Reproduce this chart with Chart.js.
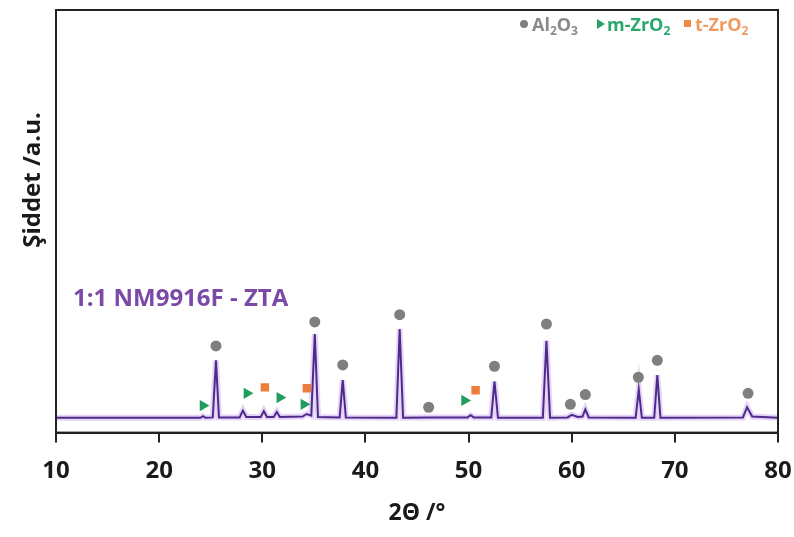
<!DOCTYPE html>
<html><head><meta charset="utf-8">
<script src="https://cdn.jsdelivr.net/npm/chart.js@4/dist/chart.umd.min.js"></script>
<style>html,body{margin:0;padding:0;background:#fff}#wrap{width:794px;height:537px}</style>
</head><body><div id="wrap"><canvas id="c" width="794" height="537"></canvas></div>
<script>
// XRD pattern (2θ in degrees, intensity in arbitrary units 0-100)
const twoTheta = [10, 24.0, 24.25, 24.5, 25.2, 25.51, 25.8, 27.8, 28.12, 28.45, 29.85, 30.15, 30.45, 31.1, 31.41, 31.7,
  33.9, 34.3, 34.75, 35.09, 35.4, 37.5, 37.8, 38.1, 43.0, 43.32, 43.65, 46.13, 49.9, 50.2, 50.5, 52.2, 52.51, 52.85,
  57.2, 57.55, 57.9, 59.6, 60.0, 60.6, 61.05, 61.32, 61.65, 66.2, 66.5, 66.8, 68.0, 68.3, 68.6, 76.6, 77.0, 77.5, 80];
const intensity = [3.5, 3.5, 3.9, 3.5, 3.6, 17.1, 3.6, 3.6, 5.2, 3.7, 3.7, 5.1, 3.7, 3.7, 4.9, 3.7,
  3.8, 4.4, 4.0, 23.3, 3.7, 3.6, 12.4, 3.6, 3.5, 24.5, 3.5, 3.6, 3.6, 4.1, 3.6, 3.6, 12.1, 3.5,
  3.5, 21.7, 3.5, 3.6, 4.2, 3.7, 3.8, 5.5, 3.6, 3.5, 10.2, 3.5, 3.5, 13.6, 3.5, 3.6, 6.0, 3.8, 3.5];

// phase markers
const al2o3X = [25.51, 35.09, 37.80, 43.32, 46.13, 52.51, 57.55, 59.87, 61.32, 66.46, 68.3, 77.1];
const al2o3Y = [20.5, 26.2, 16.0, 27.9, 6.0, 15.7, 25.7, 6.7, 9.0, 13.1, 17.1, 9.3];
const mZrO2X = [24.25, 28.51, 31.70, 34.03, 49.61];
const mZrO2Y = [6.4, 9.3, 8.3, 6.7, 7.6];
const tZrO2X = [30.25, 34.32, 50.68];
const tZrO2Y = [10.7, 10.5, 10.0];

const xTicks = [10, 20, 30, 40, 50, 60, 70, 80];
const sampleLabel = '1:1 NM9916F - ZTA';
const yTitle = 'Şiddet /a.u.';
const xTitle = '2Θ /°';

const FONT = '"Open Sans", Lato, sans-serif';
const pts = (xs, ys) => xs.map((x, i) => ({x: x, y: ys[i]}));

const overlay = {
  id: 'overlay',
  afterDraw(chart) {
    const ctx = chart.ctx, a = chart.chartArea;
    ctx.save();
    // frame
    ctx.strokeStyle = '#222';
    ctx.lineWidth = 2;
    ctx.strokeRect(a.left, a.top, a.right - a.left, a.bottom - a.top);
    // y title
    ctx.fillStyle = '#1a1a1a';
    ctx.font = 'bold 24px ' + FONT;
    ctx.textAlign = 'center';
    ctx.textBaseline = 'middle';
    ctx.translate(33, 180);
    ctx.rotate(-Math.PI / 2);
    ctx.fillText(yTitle, 0, 0);
    ctx.restore();

    ctx.save();
    // sample label
    ctx.fillStyle = '#7a4aa6';
    ctx.font = 'bold 24px ' + FONT;
    ctx.textAlign = 'left';
    ctx.textBaseline = 'middle';
    ctx.fillText(sampleLabel, 73, 299);

    // legend
    const drawChem = (parts, x, y, color) => {
      ctx.fillStyle = color;
      let cx = x;
      parts.forEach(p => {
        if (p.sub) {
          ctx.font = 'bold 12px ' + FONT;
          ctx.fillText(p.t, cx, y + 4);
        } else {
          ctx.font = 'bold 18px ' + FONT;
          ctx.fillText(p.t, cx, y);
        }
        cx += ctx.measureText(p.t).width;
      });
    };
    ctx.textBaseline = 'alphabetic';
    const ly = 31;
    ctx.fillStyle = '#808080';
    ctx.beginPath(); ctx.arc(524, 24, 4, 0, Math.PI * 2); ctx.fill();
    drawChem([{t: 'Al'}, {t: '2', sub: 1}, {t: 'O'}, {t: '3', sub: 1}], 532, ly, '#8a8a8a');
    ctx.fillStyle = '#22a566';
    ctx.beginPath(); ctx.moveTo(597, 19); ctx.lineTo(605, 24); ctx.lineTo(597, 29); ctx.closePath(); ctx.fill();
    drawChem([{t: 'm-ZrO'}, {t: '2', sub: 1}], 607, ly, '#2aa86c');
    ctx.fillStyle = '#f0884a';
    ctx.fillRect(684, 20, 7, 7);
    drawChem([{t: 't-ZrO'}, {t: '2', sub: 1}], 695, ly, '#f09a62');
    ctx.restore();
  }
};

new Chart(document.getElementById('c'), {
  type: 'line',
  data: {
    datasets: [
      {label: 'halo', data: pts(twoTheta, intensity), borderColor: 'rgba(205,160,235,0.45)', borderWidth: 6,
       pointRadius: 0, tension: 0, order: 5},
      {label: sampleLabel, data: pts(twoTheta, intensity), borderColor: '#4b2b8c', borderWidth: 2,
       pointRadius: 0, tension: 0, order: 4},
      {type: 'scatter', label: 'Al2O3', data: pts(al2o3X, al2o3Y), pointStyle: 'circle', pointRadius: 5.5,
       backgroundColor: '#7f7f7f', borderColor: '#7f7f7f', borderWidth: 0, order: 1},
      {type: 'scatter', label: 'm-ZrO2', data: pts(mZrO2X, mZrO2Y), pointStyle: 'triangle', rotation: 90,
       pointRadius: 6.5, backgroundColor: '#1f9d5e', borderColor: '#1f9d5e', borderWidth: 0, order: 1},
      {type: 'scatter', label: 't-ZrO2', data: pts(tZrO2X, tZrO2Y), pointStyle: 'rect', pointRadius: 6,
       backgroundColor: '#ee7c3c', borderColor: '#ee7c3c', borderWidth: 0, order: 1}
    ]
  },
  options: {
    responsive: false,
    animation: false,
    devicePixelRatio: 1,
    layout: {padding: {left: 56, right: 16, top: 10, bottom: 6}},
    plugins: {legend: {display: false}, tooltip: {enabled: false}},
    scales: {
      x: {
        type: 'linear', min: 10, max: 80,
        afterBuildTicks: s => { s.ticks = xTicks.map(v => ({value: v})); },
        afterFit: s => { s.paddingLeft = 0; s.paddingRight = 0; },
        ticks: {color: '#1a1a1a', font: {family: FONT, size: 24, weight: 'bold'}, padding: 14, maxRotation: 0,
                callback: v => String(v)},
        grid: {drawOnChartArea: false, tickLength: 10, color: '#222', lineWidth: 2},
        border: {display: true, color: '#222', width: 2},
        title: {display: true, text: xTitle, color: '#1a1a1a', font: {family: FONT, size: 23, weight: 'bold'},
                padding: {top: 0, bottom: 4}}
      },
      y: {display: false, min: 0, max: 100}
    }
  },
  plugins: [overlay]
});
</script>
</body></html>
